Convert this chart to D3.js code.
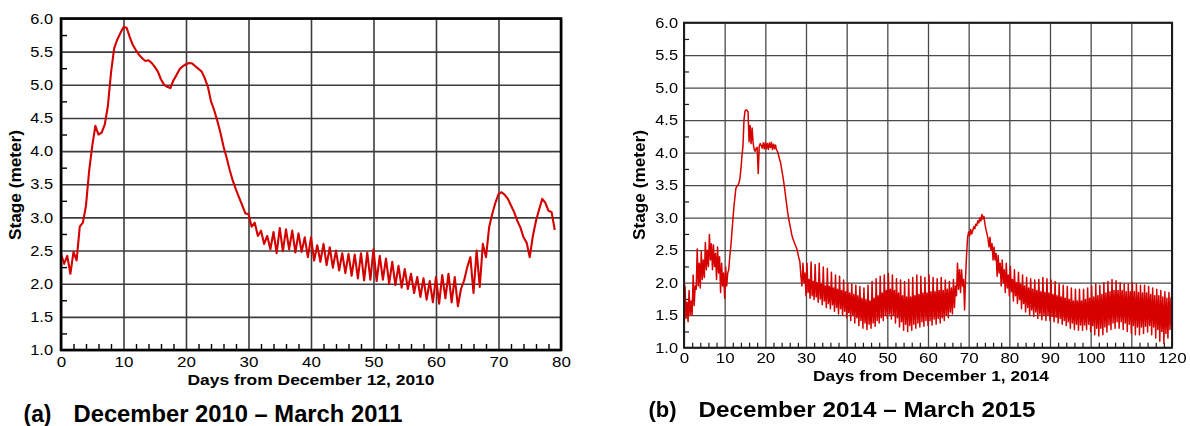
<!DOCTYPE html>
<html>
<head>
<meta charset="utf-8">
<script src="https://cdn.jsdelivr.net/npm/d3@7"></script>
<style>
  body { margin: 0; background: #fff; }
  svg { display: block; }
  text { font-family: "Liberation Sans", Arial, Helvetica, sans-serif; fill: #000; }
</style>
</head>
<body>
<svg id="chart" width="1190" height="426"></svg>
<script>
// ---------------------------------------------------------------
// (a) Stage record, December 2010 – March 2011
// two readings per day: stageA_am at day d, stageA_pm at day d + 0.5
// ---------------------------------------------------------------
const stageA_am = [
  2.45, 2.42, 2.48, 2.86, 3.18, 4.08, 4.25, 4.40, 5.18, 5.68,
  5.87, 5.72, 5.52, 5.40, 5.37, 5.27, 5.08, 4.97, 5.07, 5.24,
  5.31, 5.32, 5.24, 5.10, 4.75, 4.46, 4.07, 3.71, 3.42, 3.18,
  3.05, 2.92, 2.80, 2.72, 2.78, 2.84, 2.82, 2.80, 2.76, 2.70,
  2.70, 2.58, 2.60, 2.55, 2.50, 2.46, 2.45, 2.44, 2.46, 2.47,
  2.52, 2.42, 2.38, 2.33, 2.27, 2.22, 2.15, 2.10, 2.08, 2.04,
  2.10, 2.13, 2.15, 2.10, 1.92, 2.25, 1.86, 1.95, 2.40, 3.05,
  3.35, 3.34, 3.18, 2.95, 2.70, 2.40, 2.95, 3.28, 3.10, 2.81
];
const stageA_pm = [
  2.30, 2.15, 2.35, 2.92, 3.70, 4.38, 4.28, 4.68, 5.55, 5.78,
  5.86, 5.60, 5.45, 5.36, 5.33, 5.20, 5.00, 4.95, 5.15, 5.28,
  5.33, 5.28, 5.20, 4.97, 4.62, 4.28, 3.90, 3.55, 3.30, 3.06,
  2.86, 2.72, 2.60, 2.52, 2.46, 2.49, 2.52, 2.47, 2.48, 2.40,
  2.35, 2.33, 2.28, 2.24, 2.20, 2.16, 2.12, 2.08, 2.05, 2.06,
  2.04, 2.06, 2.00, 1.98, 1.94, 1.92, 1.86, 1.80, 1.76, 1.72,
  1.70, 1.78, 1.72, 1.66, 2.05, 2.40, 2.50, 2.60, 2.85, 3.22,
  3.38, 3.28, 3.08, 2.85, 2.62, 2.72, 3.12, 3.22, 3.08
];

// ---------------------------------------------------------------
// (b) Stage record, December 2014 – March 2015
// four readings per day: at day d, d + 0.25, d + 0.5 and d + 0.75
// ---------------------------------------------------------------
const stageB_00 = [
  1.25, 1.40, 1.50, 1.90, 1.92, 2.08, 2.25, 2.20, 2.05, 1.85,
  1.76, 2.20, 2.95, 3.48, 3.75, 4.64, 4.17, 4.15, 4.08, 4.11,
  4.16, 4.15, 4.13, 4.02, 3.75, 3.32, 2.90, 2.64, 2.45, 1.95,
  1.80, 1.76, 1.74, 1.70, 1.66, 1.62, 1.60, 1.56, 1.52, 1.50,
  1.46, 1.42, 1.38, 1.34, 1.30, 1.28, 1.30, 1.33, 1.38, 1.42,
  1.45, 1.44, 1.38, 1.32, 1.27, 1.25, 1.27, 1.30, 1.32, 1.33,
  1.34, 1.35, 1.36, 1.38, 1.42, 1.46, 1.52, 1.80, 1.85, 1.58,
  2.78, 2.80, 2.88, 2.95, 2.90, 2.55, 2.35, 2.10, 1.95, 1.85,
  1.80, 1.72, 1.68, 1.60, 1.55, 1.50, 1.48, 1.45, 1.43, 1.42,
  1.42, 1.40, 1.38, 1.36, 1.34, 1.30, 1.28, 1.27, 1.27, 1.28,
  1.25, 1.20, 1.18, 1.20, 1.24, 1.28, 1.30, 1.30, 1.28, 1.25,
  1.22, 1.20, 1.20, 1.22, 1.24, 1.20, 1.15, 1.10, 1.07, 1.15,
  1.80
];
const stageB_06 = [
  1.95, 1.88, 2.12, 2.52, 2.48, 2.62, 2.74, 2.58, 2.55, 2.30,
  2.24, 2.40, 3.15, 3.50, 3.95, 4.66, 4.42, 4.05, 3.68, 4.07,
  4.06, 4.08, 4.06, 3.96, 3.66, 3.20, 2.82, 2.60, 2.38, 2.30,
  2.30, 2.32, 2.28, 2.30, 2.24, 2.22, 2.16, 2.12, 2.10, 2.04,
  2.00, 1.98, 1.96, 1.94, 1.92, 1.96, 2.02, 2.06, 2.10, 2.12,
  2.14, 2.12, 2.06, 2.04, 2.02, 2.05, 2.08, 2.12, 2.10, 2.08,
  2.12, 2.08, 2.06, 2.08, 2.04, 2.02, 2.05, 2.30, 2.20, 2.10,
  2.72, 2.86, 2.95, 3.05, 2.82, 2.70, 2.55, 2.42, 2.35, 2.30,
  2.25, 2.20, 2.16, 2.12, 2.08, 2.06, 2.04, 2.05, 2.08, 2.06,
  2.04, 2.02, 1.98, 1.96, 1.94, 1.92, 1.90, 1.90, 1.90, 1.92,
  1.95, 1.98, 1.96, 2.00, 2.02, 2.05, 2.03, 2.00, 1.98, 1.98,
  2.00, 1.98, 1.96, 1.96, 1.94, 1.92, 1.90, 1.88, 1.86, 1.85
];
const stageB_12 = [
  1.45, 1.50, 1.65, 1.95, 2.05, 2.20, 2.35, 2.25, 2.15, 1.95,
  1.95, 2.55, 3.30, 3.53, 4.10, 4.65, 4.14, 4.02, 4.10, 4.15,
  4.14, 4.16, 4.12, 3.90, 3.56, 3.08, 2.74, 2.56, 2.32, 2.00,
  1.85, 1.80, 1.78, 1.75, 1.72, 1.68, 1.66, 1.62, 1.60, 1.56,
  1.54, 1.50, 1.46, 1.42, 1.38, 1.36, 1.38, 1.42, 1.46, 1.50,
  1.52, 1.50, 1.46, 1.40, 1.36, 1.34, 1.36, 1.38, 1.40, 1.42,
  1.42, 1.44, 1.45, 1.46, 1.50, 1.55, 1.62, 1.90, 1.95, 2.45,
  2.82, 2.83, 2.92, 2.98, 2.75, 2.50, 2.35, 2.15, 2.00, 1.92,
  1.86, 1.80, 1.74, 1.68, 1.62, 1.58, 1.55, 1.52, 1.50, 1.50,
  1.48, 1.47, 1.45, 1.42, 1.40, 1.38, 1.36, 1.35, 1.35, 1.36,
  1.34, 1.30, 1.30, 1.32, 1.35, 1.38, 1.40, 1.40, 1.38, 1.36,
  1.34, 1.32, 1.32, 1.33, 1.34, 1.32, 1.28, 1.25, 1.22, 1.28
];
const stageB_18 = [
  1.70, 1.72, 1.95, 2.30, 2.35, 2.50, 2.60, 2.45, 2.40, 2.15,
  2.15, 2.75, 3.45, 3.60, 4.50, 4.63, 4.38, 4.07, 4.14, 4.06,
  4.05, 4.05, 4.04, 3.85, 3.45, 2.98, 2.68, 2.52, 2.10, 2.15,
  2.05, 2.02, 2.00, 1.98, 1.95, 1.94, 1.92, 1.90, 1.88, 1.86,
  1.84, 1.82, 1.80, 1.76, 1.74, 1.72, 1.76, 1.80, 1.84, 1.88,
  1.90, 1.88, 1.84, 1.80, 1.78, 1.78, 1.80, 1.82, 1.84, 1.84,
  1.86, 1.86, 1.88, 1.88, 1.90, 1.92, 1.95, 2.20, 2.05, 2.70,
  2.75, 2.90, 3.00, 3.02, 2.68, 2.60, 2.45, 2.30, 2.20, 2.12,
  2.05, 2.00, 1.98, 1.95, 1.92, 1.90, 1.88, 1.86, 1.85, 1.84,
  1.82, 1.80, 1.78, 1.76, 1.74, 1.72, 1.72, 1.72, 1.74, 1.76,
  1.78, 1.80, 1.82, 1.84, 1.86, 1.88, 1.88, 1.88, 1.86, 1.86,
  1.86, 1.85, 1.84, 1.84, 1.82, 1.80, 1.80, 1.78, 1.76, 1.76
];

// axis tick values
const stageTicks = [1.0, 1.5, 2.0, 2.5, 3.0, 3.5, 4.0, 4.5, 5.0, 5.5, 6.0];
const dayTicksA = [0, 10, 20, 30, 40, 50, 60, 70, 80];
const dayTicksB = [0, 10, 20, 30, 40, 50, 60, 70, 80, 90, 100, 110, 120];

// text labels
const xTitleA = "Days from December 12, 2010";
const xTitleB = "Days from December 1, 2014";
const yTitle = "Stage (meter)";
const captionA = ["(a)", "December 2010 \u2013 March 2011"];
const captionB = ["(b)", "December 2014 \u2013 March 2015"];

// ---------------------------------------------------------------
const svg = d3.select("#chart");
const defs = svg.append("defs");
defs.append("filter").attr("id", "soft")
  .attr("x", "-5%").attr("y", "-5%").attr("width", "110%").attr("height", "110%")
  .append("feGaussianBlur").attr("stdDeviation", 0.45);

const seriesA = [];
stageA_am.forEach((v, i) => {
  seriesA.push({ t: i, v });
  if (i < stageA_pm.length) seriesA.push({ t: i + 0.5, v: stageA_pm[i] });
});

const seriesB = [];
stageB_00.forEach((v, i) => {
  seriesB.push({ t: i, v });
  if (i < stageB_06.length) seriesB.push({ t: i + 0.25, v: stageB_06[i] });
  if (i < stageB_12.length) seriesB.push({ t: i + 0.5, v: stageB_12[i] });
  if (i < stageB_18.length) seriesB.push({ t: i + 0.75, v: stageB_18[i] });
});

const SX = 1.13; // horizontal stretch of the lettering

function panel(cfg) {
  const g = svg.append("g");
  if (cfg.filter) g.attr("filter", cfg.filter);

  const x = d3.scaleLinear().domain([0, cfg.xMax]).range([cfg.x0, cfg.x1]);
  const y = d3.scaleLinear().domain([1, 6]).range([cfg.y1, cfg.y0]);
  const h = cfg.y1 - cfg.y0, w = cfg.x1 - cfg.x0;

  // major grid
  const gx = g.append("g").attr("transform", `translate(0,${cfg.y1})`)
    .call(d3.axisBottom(x).tickValues(cfg.xTicks).tickSize(-h).tickFormat(""));
  const gy = g.append("g").attr("transform", `translate(${cfg.x0},0)`)
    .call(d3.axisLeft(y).tickValues(stageTicks).tickSize(-w).tickFormat(""));
  [gx, gy].forEach(a => {
    a.select(".domain").remove();
    a.selectAll("line").attr("stroke", cfg.grid).attr("stroke-width", cfg.gridW);
  });

  // minor ticks (inside)
  const minorX = d3.range(0, cfg.xMax + 0.001, 2).filter(d => d % 10 !== 0);
  const minorY = d3.range(1, 6.001, 0.25).filter(d => Math.abs(d * 2 - Math.round(d * 2)) > 1e-6);
  const mx = g.append("g").attr("transform", `translate(0,${cfg.y1})`)
    .call(d3.axisBottom(x).tickValues(minorX).tickSize(-cfg.minor).tickFormat(""));
  const my = g.append("g").attr("transform", `translate(${cfg.x0},0)`)
    .call(d3.axisLeft(y).tickValues(minorY).tickSize(-cfg.minor).tickFormat(""));
  [mx, my].forEach(a => {
    a.select(".domain").remove();
    a.selectAll("line").attr("stroke", cfg.frame).attr("stroke-width", cfg.minorW);
  });

  // stage line
  g.append("path")
    .datum(cfg.data)
    .attr("fill", "none")
    .attr("stroke", cfg.lineColor)
    .attr("stroke-width", cfg.lineW)
    .attr("stroke-linejoin", "round")
    .attr("d", d3.line().x(d => x(d.t)).y(d => y(d.v)));

  // frame
  g.append("rect")
    .attr("x", cfg.x0).attr("y", cfg.y0).attr("width", w).attr("height", h)
    .attr("fill", "none").attr("stroke", cfg.frame).attr("stroke-width", cfg.frameW);

  // tick labels
  const lx = g.append("g").attr("transform", `translate(0,${cfg.y1})`)
    .call(d3.axisBottom(x).tickValues(cfg.xTicks).tickSize(0).tickFormat(d3.format("d")));
  lx.select(".domain").remove();
  lx.selectAll("text")
    .attr("y", cfg.xLabelDy).attr("dy", null)
    .attr("transform", `scale(${SX},1)`)
    .style("font-size", cfg.tickFont + "px").attr("fill", "#111");

  const ly = g.append("g").attr("transform", `translate(${cfg.x0},0)`)
    .call(d3.axisLeft(y).tickValues(stageTicks).tickSize(0).tickFormat(d3.format(".1f")));
  ly.select(".domain").remove();
  ly.selectAll("text")
    .attr("x", -cfg.yLabelGap / SX)
    .attr("transform", `scale(${SX},1)`)
    .style("font-size", cfg.yTickFont + "px").attr("fill", "#111");
  [lx, ly].forEach(a => a.attr("font-family", null).attr("font-size", null));

  // axis titles
  g.append("text")
    .attr("x", cfg.xTitleX).attr("y", cfg.xTitleY)
    .attr("text-anchor", "middle")
    .attr("textLength", cfg.xTitleLen).attr("lengthAdjust", "spacingAndGlyphs")
    .style("font-size", cfg.xTitleFont + "px").style("font-weight", "bold")
    .text(cfg.xTitle);

  g.append("text")
    .attr("transform", `translate(${cfg.yTitleX},185) rotate(-90)`)
    .attr("text-anchor", "middle")
    .attr("textLength", 110).attr("lengthAdjust", "spacingAndGlyphs")
    .style("font-size", "16px").style("font-weight", "bold")
    .text(yTitle);

  // caption
  g.append("text")
    .attr("x", cfg.capX).attr("y", cfg.capY)
    .style("font-size", cfg.capFont + "px").style("font-weight", "bold")
    .attr("textLength", cfg.capLen[0]).attr("lengthAdjust", "spacingAndGlyphs")
    .text(cfg.caption[0]);
  g.append("text")
    .attr("x", cfg.capX2).attr("y", cfg.capY)
    .style("font-size", cfg.capFont + "px").style("font-weight", "bold")
    .attr("textLength", cfg.capLen[1]).attr("lengthAdjust", "spacingAndGlyphs")
    .text(cfg.caption[1]);
}

panel({
  x0: 61, x1: 561, y0: 18.5, y1: 350, xMax: 80,
  xTicks: dayTicksA, data: seriesA,
  grid: "#3c3c3c", gridW: 1.6, frame: "#000", frameW: 2.6,
  minor: 6, minorW: 1.4,
  lineColor: "#d40000", lineW: 2.1,
  tickFont: 15, yTickFont: 14.5, xLabelDy: 16.7, yLabelGap: 8,
  xTitle: xTitleA, xTitleX: 311, xTitleY: 385, xTitleLen: 247, xTitleFont: 15.5,
  yTitleX: 20.5,
  caption: captionA, capX: 23.5, capX2: 73.5, capY: 421.5, capFont: 23, capLen: [28, 329]
});

panel({
  x0: 684, x1: 1172, y0: 22.7, y1: 347.7, xMax: 120,
  xTicks: dayTicksB, data: seriesB, filter: "url(#soft)",
  grid: "#4a4a4a", gridW: 1.3, frame: "#1a1a1a", frameW: 2,
  minor: 5, minorW: 1.2,
  lineColor: "#d60000", lineW: 1.5,
  tickFont: 15, yTickFont: 14.5, xLabelDy: 15.6, yLabelGap: 6,
  xTitle: xTitleB, xTitleX: 931, xTitleY: 380.7, xTitleLen: 236, xTitleFont: 15,
  yTitleX: 645,
  caption: captionB, capX: 648.5, capX2: 698.5, capY: 416.5, capFont: 22, capLen: [28, 337]
});
</script>
</body>
</html>
